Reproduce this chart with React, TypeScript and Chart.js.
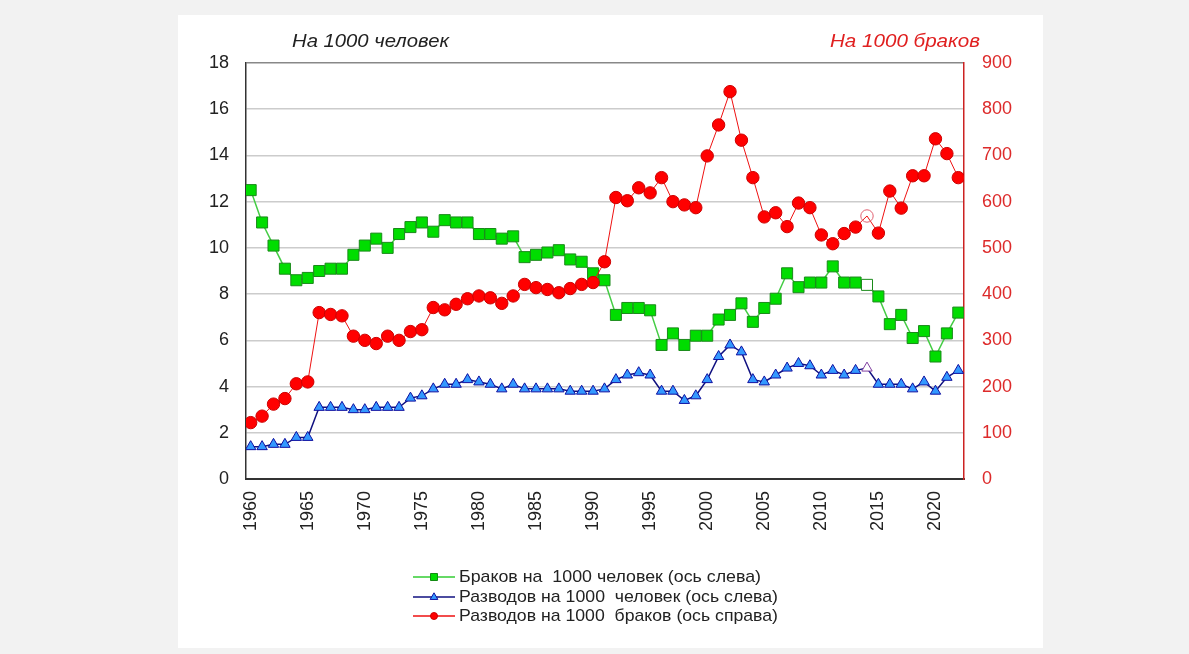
import { useEffect, useRef } from 'react';
import { Chart, registerables } from 'chart.js';

Chart.register(...registerables);

const years = [
  1960, 1961, 1962, 1963, 1964, 1965, 1966, 1967, 1968, 1969,
  1970, 1971, 1972, 1973, 1974, 1975, 1976, 1977, 1978, 1979,
  1980, 1981, 1982, 1983, 1984, 1985, 1986, 1987, 1988, 1989,
  1990, 1991, 1992, 1993, 1994, 1995, 1996, 1997, 1998, 1999,
  2000, 2001, 2002, 2003, 2004, 2005, 2006, 2007, 2008, 2009,
  2010, 2011, 2012, 2013, 2014, 2015, 2016, 2017, 2018, 2019,
  2020, 2021, 2022,
];

const tickYears = [1960, 1965, 1970, 1975, 1980, 1985, 1990, 1995, 2000, 2005, 2010, 2015, 2020];

// Браков на 1000 человек (left axis)
const marriages = [
  12.5, 11.1, 10.1, 9.1, 8.6, 8.7, 9.0, 9.1, 9.1, 9.7,
  10.1, 10.4, 10.0, 10.6, 10.9, 11.1, 10.7, 11.2, 11.1, 11.1,
  10.6, 10.6, 10.4, 10.5, 9.6, 9.7, 9.8, 9.9, 9.5, 9.4,
  8.9, 8.6, 7.1, 7.4, 7.4, 7.3, 5.8, 6.3, 5.8, 6.2,
  6.2, 6.9, 7.1, 7.6, 6.8, 7.4, 7.8, 8.9, 8.3, 8.5,
  8.5, 9.2, 8.5, 8.5, 8.4, 7.9, 6.7, 7.1, 6.1, 6.4,
  5.3, 6.3, 7.2,
];

// Разводов на 1000 человек (left axis)
const divorces = [
  1.4, 1.4, 1.5, 1.5, 1.8, 1.8, 3.1, 3.1, 3.1, 3.0,
  3.0, 3.1, 3.1, 3.1, 3.5, 3.6, 3.9, 4.1, 4.1, 4.3,
  4.2, 4.1, 3.9, 4.1, 3.9, 3.9, 3.9, 3.9, 3.8, 3.8,
  3.8, 3.9, 4.3, 4.5, 4.6, 4.5, 3.8, 3.8, 3.4, 3.6,
  4.3, 5.3, 5.8, 5.5, 4.3, 4.2, 4.5, 4.8, 5.0, 4.9,
  4.5, 4.7, 4.5, 4.7, 4.8, 4.1, 4.1, 4.1, 3.9, 4.2,
  3.8, 4.4, 4.7,
];

// Разводов на 1000 браков (right axis)
const divorcesPerMarriages = [
  122, 136, 162, 174, 206, 210, 360, 356, 353, 309,
  300, 293, 309, 300, 319, 323, 371, 366, 378, 390,
  396, 392, 380, 396, 421, 414, 410, 403, 412, 421,
  425, 470, 609, 602, 630, 619, 652, 600, 593, 587,
  699, 766, 838, 733, 652, 567, 576, 546, 597, 587,
  528, 509, 531, 545, 569, 532, 623, 586, 656, 656,
  736, 704, 652,
];

const hollowYear = 2014;

const seriesLabels = [
  'Браков на  1000 человек (ось слева)',
  'Разводов на 1000  человек (ось слева)',
  'Разводов на 1000  браков (ось справа)',
];

const FONT = '"Liberation Sans", Arial, sans-serif';

function drawMarker(ctx: CanvasRenderingContext2D, kind: string, x: number, y: number, s: number, fill: string, stroke: string) {
  ctx.save();
  ctx.fillStyle = fill;
  ctx.strokeStyle = stroke;
  ctx.lineWidth = 1;
  ctx.beginPath();
  if (kind === 'rect') {
    ctx.rect(x - s, y - s, 2 * s, 2 * s);
  } else if (kind === 'triangle') {
    ctx.moveTo(x, y - s * 1.2);
    ctx.lineTo(x + s * 1.1, y + s * 0.7);
    ctx.lineTo(x - s * 1.1, y + s * 0.7);
    ctx.closePath();
  } else {
    ctx.arc(x, y, s, 0, Math.PI * 2);
  }
  ctx.fill();
  ctx.stroke();
  ctx.restore();
}

function fillStretched(ctx: CanvasRenderingContext2D, text: string, x: number, y: number, width: number) {
  const w = ctx.measureText(text).width;
  const k = width / w;
  ctx.save();
  ctx.translate(x, y);
  ctx.scale(k, 1);
  ctx.fillText(text, 0, 0);
  ctx.restore();
}

const overlayPlugin = {
  id: 'overlay',
  afterDraw(chart: any) {
    const ctx: CanvasRenderingContext2D = chart.ctx;
    ctx.save();
    ctx.font = `italic 18px ${FONT}`;
    ctx.textBaseline = 'middle';
    ctx.textAlign = 'left';
    ctx.fillStyle = '#222222';
    fillStretched(ctx, 'На 1000 человек', 292, 42, 157);
    ctx.fillStyle = '#e02020';
    fillStretched(ctx, 'На 1000 браков', 830, 42, 150);

    const rows = [
      { y: 577, color: '#33cc33', kind: 'rect', fill: '#00dd00', stroke: '#138a13', s: 3.5, w: 302 },
      { y: 597, color: '#101080', kind: 'triangle', fill: '#3399ff', stroke: '#1010a0', s: 3.5, w: 319 },
      { y: 616, color: '#ee1111', kind: 'circle', fill: '#ff0000', stroke: '#cc0000', s: 3.5, w: 319 },
    ];
    ctx.font = `17px ${FONT}`;
    rows.forEach((r, i) => {
      ctx.strokeStyle = r.color;
      ctx.lineWidth = 1.5;
      ctx.beginPath();
      ctx.moveTo(413, r.y);
      ctx.lineTo(455, r.y);
      ctx.stroke();
      drawMarker(ctx, r.kind, 434, r.y, r.s, r.fill, r.stroke);
      ctx.fillStyle = '#222222';
      fillStretched(ctx, seriesLabels[i], 459, r.y, r.w);
    });
    ctx.restore();
  },
};

export default function App() {
  const ref = useRef<HTMLCanvasElement | null>(null);

  useEffect(() => {
    const canvas = ref.current;
    if (!canvas) return;
    const chart = new Chart(canvas, {
      type: 'line',
      data: {
        datasets: [
          {
            label: seriesLabels[0],
            data: years.map((yr, i) => ({ x: yr, y: marriages[i] })),
            yAxisID: 'yL',
            borderColor: '#44cc44',
            borderWidth: 1.5,
            pointStyle: 'rect',
            pointRadius: 7.8,
            pointBackgroundColor: years.map((yr) => (yr === hollowYear ? '#ffffff' : '#00dd00')),
            pointBorderColor: '#1a8a1a',
            pointBorderWidth: 1,
            order: 2,
          },
          {
            label: seriesLabels[1],
            data: years.map((yr, i) => ({ x: yr, y: divorces[i] })),
            yAxisID: 'yL',
            borderColor: '#101080',
            borderWidth: 1.5,
            pointStyle: 'triangle',
            pointRadius: 6,
            pointBackgroundColor: years.map((yr) => (yr === hollowYear ? '#ffffff' : '#3399ff')),
            pointBorderColor: years.map((yr) => (yr === hollowYear ? '#8040a0' : '#1010a0')),
            pointBorderWidth: 1,
            order: 3,
          },
          {
            label: seriesLabels[2],
            data: years.map((yr, i) => ({ x: yr, y: divorcesPerMarriages[i] })),
            yAxisID: 'yR',
            borderColor: '#ee1111',
            borderWidth: 1,
            pointStyle: 'circle',
            pointRadius: 6.2,
            pointBackgroundColor: years.map((yr) => (yr === hollowYear ? 'rgba(255,255,255,0)' : '#ff0000')),
            pointBorderColor: years.map((yr) => (yr === hollowYear ? '#e06070' : '#cc0000')),
            pointBorderWidth: 1,
            order: 1,
          },
        ],
      },
      options: {
        animation: false,
        responsive: false,
        layout: { padding: { top: 63, left: 0, right: 0, bottom: 0 } },
        plugins: { legend: { display: false }, tooltip: { enabled: false }, title: { display: false } },
        scales: {
          x: {
            type: 'linear',
            min: 1959.59,
            max: 2022.5,
            afterBuildTicks: (s: any) => {
              s.ticks = tickYears.map((v) => ({ value: v }));
            },
            afterFit: (s: any) => {
              s.height = 175;
            },
            ticks: {
              autoSkip: false,
              minRotation: 90,
              maxRotation: 90,
              padding: 12,
              color: '#222222',
              font: { size: 18, family: FONT },
              callback: (v: any) => String(v),
            },
            grid: { display: false, drawTicks: false },
            border: { color: '#333333', width: 2 },
          },
          yL: {
            type: 'linear',
            position: 'left',
            min: 0,
            max: 18,
            afterFit: (s: any) => {
              s.width = 246;
            },
            ticks: {
              stepSize: 2,
              padding: 17,
              color: '#222222',
              font: { size: 18, family: FONT },
            },
            grid: {
              drawTicks: false,
              color: (c: any) => (c.tick && c.tick.value === 18 ? '#888888' : '#cccccc'),
              lineWidth: 1.5,
            },
            border: { color: '#333333', width: 1.5 },
          },
          yR: {
            type: 'linear',
            position: 'right',
            min: 0,
            max: 900,
            afterFit: (s: any) => {
              s.width = 225;
            },
            ticks: {
              stepSize: 100,
              padding: 18,
              color: '#dd2a2a',
              font: { size: 18, family: FONT },
            },
            grid: { drawOnChartArea: false, drawTicks: false },
            border: { color: '#cc2222', width: 1.5 },
          },
        },
      },
      plugins: [overlayPlugin],
    } as any);
    return () => chart.destroy();
  }, []);

  return (
    <div style={{ position: 'fixed', left: 0, top: 0, width: 1189, height: 654, background: '#f2f2f2', overflow: 'hidden' }}>
      <div style={{ position: 'absolute', left: 178, top: 15, width: 865, height: 633, background: '#ffffff' }} />
      <canvas ref={ref} width={1189} height={654} style={{ position: 'absolute', left: 0, top: 0, width: 1189, height: 654 }} />
    </div>
  );
}
